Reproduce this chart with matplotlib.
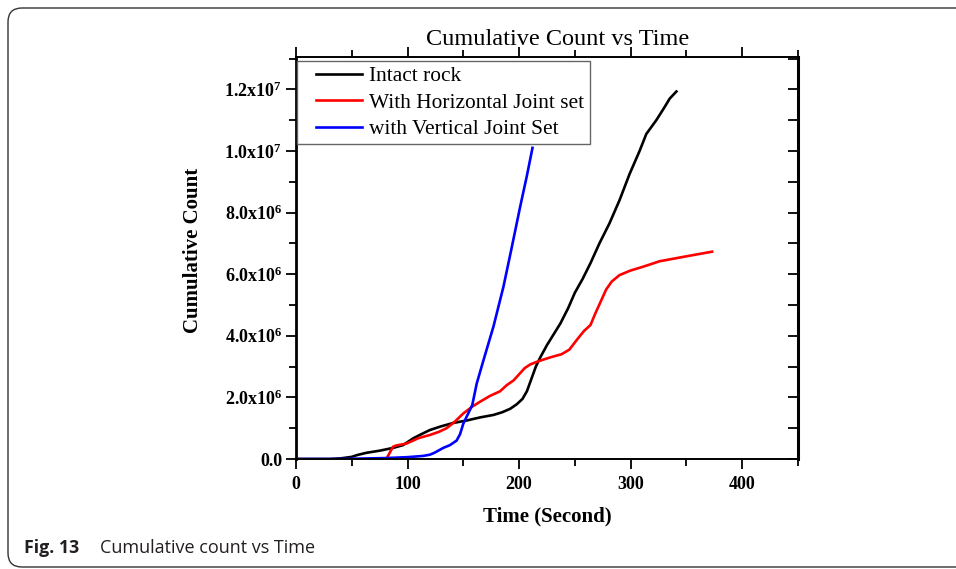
import numpy as np
import matplotlib
matplotlib.use('Agg')
import matplotlib.pyplot as plt
from matplotlib.ticker import MultipleLocator, FuncFormatter
from matplotlib.patches import FancyBboxPatch
from matplotlib.legend_handler import HandlerLine2D

# time (s) and cumulative count (millions)
t_intact = [0, 30, 40, 50, 55, 63, 75, 87, 96, 105, 112, 120, 130, 141, 153, 165,
            177, 185, 192, 198, 203, 207, 211, 215, 219, 225, 231, 237, 244, 250,
            257, 264, 272, 281, 290, 299, 308, 314, 323, 330, 335, 341]
c_intact = [0, 0, 0.02, 0.07, 0.13, 0.2, 0.27, 0.36, 0.45, 0.67, 0.8, 0.94, 1.06,
            1.17, 1.25, 1.35, 1.43, 1.52, 1.63, 1.78, 1.95, 2.2, 2.6, 3.0, 3.3, 3.7,
            4.05, 4.4, 4.9, 5.4, 5.85, 6.36, 7.0, 7.65, 8.4, 9.25, 10.0, 10.55,
            11.0, 11.4, 11.7, 11.93]

t_horiz = [81, 84, 87, 90, 99, 110, 120, 128, 135, 142, 150, 158, 165, 174, 183,
           189, 195, 200, 205, 210, 217, 228, 238, 245, 252, 258, 264, 268, 273,
           278, 283, 290, 300, 311, 326, 341, 356, 373]
c_horiz = [0, 0.2, 0.4, 0.44, 0.5, 0.68, 0.78, 0.88, 1.0, 1.2, 1.48, 1.7, 1.86,
           2.05, 2.2, 2.4, 2.55, 2.75, 2.95, 3.07, 3.17, 3.3, 3.4, 3.55, 3.88, 4.15,
           4.35, 4.7, 5.1, 5.5, 5.76, 5.97, 6.12, 6.24, 6.42, 6.52, 6.62, 6.73]

t_vert = [0, 40, 80, 100, 114, 120, 124, 132, 138, 144, 147, 150, 154, 158, 162,
          168, 177, 186, 193, 201, 207, 212]
c_vert = [0, 0, 0.03, 0.06, 0.1, 0.14, 0.2, 0.36, 0.45, 0.6, 0.8, 1.15, 1.45,
          1.75, 2.45, 3.2, 4.3, 5.6, 6.8, 8.2, 9.2, 10.1]

labels = ['Intact rock', 'With Horizontal Joint set', 'with Vertical Joint Set']
colors = ['#000000', '#ff0000', '#0000ff']

serif = 'Liberation Serif'

fig = plt.figure(figsize=(9.56, 5.69), dpi=100)
W, H = 956, 569
ax = fig.add_axes([296 / W, 1 - 459 / H, (798 - 296) / W, (459 - 57) / H])

lines = []
for t, c, lab, col in zip([t_intact, t_horiz, t_vert], [c_intact, c_horiz, c_vert],
                          labels, colors):
    ln, = ax.plot(t, np.array(c) * 1e6, color=col, lw=1.9, label=lab)
    lines.append(ln)

ax.set_xlim(0, 450)
ax.set_ylim(0, 1.305e7)
ax.xaxis.set_major_locator(MultipleLocator(100))
ax.xaxis.set_minor_locator(MultipleLocator(50))
ax.yaxis.set_major_locator(MultipleLocator(2e6))
ax.yaxis.set_minor_locator(MultipleLocator(1e6))


def yfmt(v, pos):
    if abs(v) < 1:
        return '0.0'
    if v < 0:
        return ''
    e = int(np.floor(np.log10(v)))
    return r'$\mathregular{%.1fx10^{%d}}$' % (v / 10 ** e, e)


ax.yaxis.set_major_formatter(FuncFormatter(yfmt))
ax.tick_params(axis='x', which='both', direction='out', top=True, width=1.3)
ax.tick_params(axis='x', which='major', length=7, pad=5)
ax.tick_params(axis='x', which='minor', length=5)
ax.tick_params(axis='y', which='both', direction='out', right=False, width=1.3)
ax.tick_params(axis='y', which='major', length=7, pad=3)
ax.tick_params(axis='y', which='minor', length=5)
for lab in ax.get_xticklabels() + ax.get_yticklabels():
    lab.set_fontfamily(serif)
    lab.set_fontweight('bold')
    lab.set_fontsize(13)

# right side ticks point inward
sec = ax.secondary_yaxis('right')
sec.yaxis.set_major_locator(MultipleLocator(1e6))
sec.tick_params(axis='y', direction='in', length=7, width=1.3, labelright=False)
sec.spines['right'].set_linewidth(2.2)

for s in ['left', 'right']:
    ax.spines[s].set_linewidth(2.0)
for s in ['top', 'bottom']:
    ax.spines[s].set_linewidth(1.4)

leg = ax.legend(handles=lines, loc='upper left', bbox_to_anchor=(0.002, 0.99),
                borderaxespad=0, fancybox=False, edgecolor='#666666', framealpha=1,
                prop={'family': serif, 'size': 15.4}, handlelength=2.8,
                handletextpad=0.33, labelspacing=0.3, borderpad=0.25,
                handler_map={ln: HandlerLine2D(xpad=0.65) for ln in lines})
leg.get_frame().set_linewidth(1.0)

fig.text(558 / W, 1 - 45 / H, 'Cumulative Count vs Time', ha='center', va='baseline',
         fontfamily=serif, fontsize=17.5)
fig.text(547 / W, 1 - 521 / H, 'Time (Second)', ha='center', va='baseline',
         fontfamily=serif, fontweight='bold', fontsize=15)
fig.text(193 / W, 1 - 250 / H, 'Cumulative Count', ha='center', va='center',
         rotation=90, fontfamily=serif, fontweight='bold', fontsize=15)

# caption and rounded frame
fig.text(24 / W, 1 - 553 / H, 'Fig. 13', ha='left', va='baseline',
         fontfamily='Open Sans', fontweight='bold', fontsize=12.8, color='#231f20')
fig.text(100 / W, 1 - 553 / H, 'Cumulative count vs Time', ha='left', va='baseline',
         fontfamily='Open Sans', fontsize=13, color='#231f20')
frame = FancyBboxPatch((8, 2), 1000, 559, boxstyle='round,pad=0,rounding_size=14',
                       transform=None, fill=False, ec='#333333', lw=1.0)
fig.add_artist(frame)

fig.savefig('out.png', dpi=100)
